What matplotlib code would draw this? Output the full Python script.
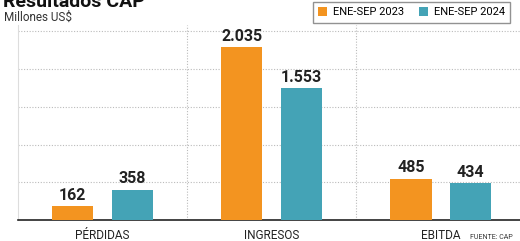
import numpy as np
import matplotlib.pyplot as plt
from matplotlib.patches import Patch

# --- DATA ---
categories = ["PÉRDIDAS", "INGRESOS", "EBITDA"]
vals_2023 = [162, 2035, 485]
vals_2024 = [358, 1553, 434]
labels_2023 = ["162", "2.035", "485"]
labels_2024 = ["358", "1.553", "434"]
series_names = ["ENE-SEP 2023", "ENE-SEP 2024"]

ORANGE = "#F39420"
TEAL = "#44A3B6"
FONT = "Roboto"

plt.rcParams['font.family'] = [FONT, 'DejaVu Sans']

fig = plt.figure(figsize=(5.2, 2.41), dpi=100)
ax = fig.add_axes([18 / 520, 1 - 220 / 241, 1 - 18 / 520 + 0.01, 195 / 241])

x = np.arange(len(categories))
w = 0.244
off = 0.176
b1 = ax.bar(x - off, vals_2023, w, color=ORANGE, zorder=3)
b2 = ax.bar(x + off, vals_2024, w, color=TEAL, zorder=3)

for bars, labs in [(b1, labels_2023), (b2, labels_2024)]:
    for rect, lab in zip(bars, labs):
        ax.text(rect.get_x() + rect.get_width() / 2, rect.get_height() + 40, lab,
                ha='center', va='bottom', fontsize=11.5, fontweight='bold', color='#222222')

ax.set_xlim(-0.5, 2.5)
ax.set_ylim(0, 2300)
ax.set_yticks(np.arange(445, 2300, 445))
ax.yaxis.grid(True, linestyle=(0, (1, 1.5)), color='#bbbbbb', linewidth=0.8, zorder=0)
for sep in [0.5, 1.5]:
    ax.axvline(sep, linestyle=(0, (1, 1.5)), color='#bbbbbb', linewidth=0.8, zorder=0)
ax.tick_params(axis='y', left=False, labelleft=False)
ax.tick_params(axis='x', bottom=False, labelsize=8.5, colors='#222222', pad=3)
ax.set_xticks(x)
ax.set_xticklabels(categories)
for s in ['top', 'right']:
    ax.spines[s].set_visible(False)
ax.spines['left'].set_color('#dddddd')
ax.spines['left'].set_linewidth(0.8)
ax.spines['bottom'].set_color('#222222')
ax.spines['bottom'].set_linewidth(1.2)

# title / subtitle
fig.text(0.005, 1 - 7 / 241, "Resultados CAP", fontsize=14, fontweight='bold',
         color='#111111', va='baseline', ha='left')
fig.text(0.008, 1 - 21 / 241, "Millones US$", fontsize=8.5, color='#333333',
         va='baseline', ha='left')

# legend
handles = [Patch(facecolor=ORANGE), Patch(facecolor=TEAL)]
leg = fig.legend(handles, series_names, loc='upper left', bbox_to_anchor=(307 / 520, 1 + 4 / 241),
                 ncol=2, fontsize=8, frameon=True, fancybox=False, handlelength=0.8,
                 handleheight=0.8, handletextpad=0.5, columnspacing=1.4, borderpad=0.5)
leg.get_frame().set_edgecolor('#777777')
leg.get_frame().set_linewidth(1.0)

fig.text(470 / 520, 1 - 239 / 241, "FUENTE: CAP", fontsize=5, color='#333333',
         va='baseline', ha='left')

fig.savefig("out.png", dpi=100)
